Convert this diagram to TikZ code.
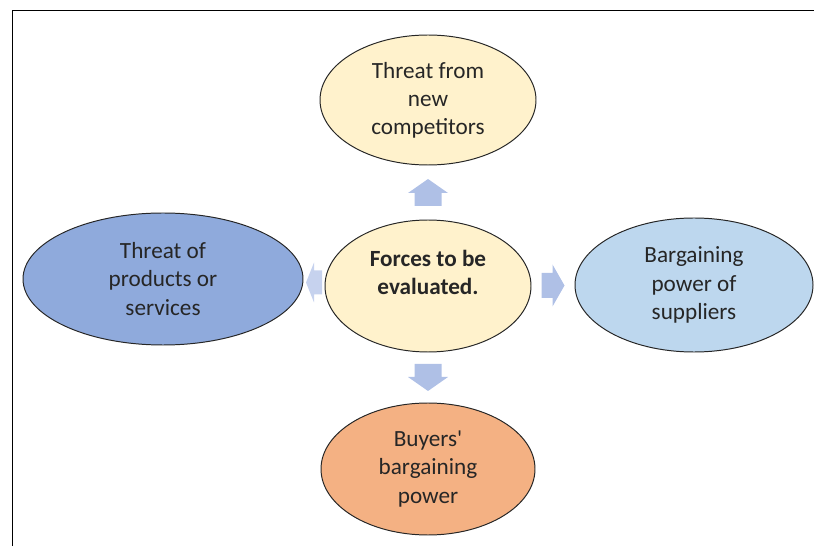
\documentclass[tikz,border=0pt]{standalone}
\usepackage{fontspec}
\setmainfont{Carlito}
\usetikzlibrary{shapes.geometric,calc}

\definecolor{paleyellow}{HTML}{FFF2CC}
\definecolor{midblue}{HTML}{8FAADC}
\definecolor{lightblue}{HTML}{BDD7EE}
\definecolor{peach}{HTML}{F4B183}
\definecolor{arrowblue}{HTML}{AFC0E6}
\definecolor{fadedblue}{HTML}{C6D2EE}
\definecolor{textgray}{HTML}{262626}

\tikzset{
  force/.style={ellipse,draw=black!85,line width=0.7pt,inner sep=0pt,align=center,
    text=textgray,font=\fontsize{16.5}{20}\selectfont},
  blockarrow/.style={fill=arrowblue,draw=none}
}

\begin{document}
\begin{tikzpicture}
    \useasboundingbox (0,0) rectangle (20.35,13.65);
    % frame
    \draw[line width=1.4pt] (0.3125,0) -- (0.3125,13.3875) -- (20.35,13.3875);

    \node[force,fill=paleyellow,minimum width=5.15cm,minimum height=3.3cm] (forces) at (10.7,6.5)
        {\textbf{Forces to be}\\\textbf{evaluated.}\\\mbox{}};
    \node[force,fill=paleyellow,minimum width=5.4cm,minimum height=3.25cm] (entrants) at (10.7,11.15)
        {Threat from\\new\\competitors};
    \node[force,fill=midblue,minimum width=7cm,minimum height=3.3cm] (substitutes) at (4.075,6.675)
        {Threat of\\products or\\services};
    \node[force,fill=lightblue,minimum width=5.95cm,minimum height=3.35cm] (suppliers) at (17.35,6.525)
        {Bargaining\\power of\\suppliers};
    \node[force,fill=peach,minimum width=5.35cm,minimum height=3.3cm] (buyers) at (10.7,1.925)
        {Buyers\textquotesingle\\bargaining\\power};

    % block arrows, half way between the ellipses
    \coordinate (upA) at ($(forces.north)!0.5!(entrants.south)$);
    \coordinate (downA) at ($(forces.south)!0.5!(buyers.north)$);
    \coordinate (rightA) at ($(forces.east)!0.5!(suppliers.west)$);
    \coordinate (leftA) at ($(forces.west)!0.5!(substitutes.east)$);
    \fill[blockarrow,shift={(upA)},rotate=90]
        (-0.3375,-0.3375) -- (-0.0125,-0.3375) -- (-0.0125,-0.5) -- (0.3375,0)
        -- (-0.0125,0.5) -- (-0.0125,0.3375) -- (-0.3375,0.3375) -- cycle;
    \fill[blockarrow,shift={(downA)},rotate=-90]
        (-0.3375,-0.3375) -- (-0.0125,-0.3375) -- (-0.0125,-0.5) -- (0.3375,0)
        -- (-0.0125,0.5) -- (-0.0125,0.3375) -- (-0.3375,0.3375) -- cycle;
    \fill[blockarrow,shift={(rightA)}]
        (-0.2875,-0.3125) -- (-0.0125,-0.3125) -- (-0.0125,-0.525) -- (0.2875,0)
        -- (-0.0125,0.525) -- (-0.0125,0.3125) -- (-0.2875,0.3125) -- cycle;
    \fill[blockarrow,fill=fadedblue,shift={(leftA)},rotate=180]
        (-0.2,-0.3) -- (0,-0.3) -- (0,-0.5) -- (0.2,0)
        -- (0,0.5) -- (0,0.3) -- (-0.2,0.3) -- cycle;
\end{tikzpicture}
\end{document}
